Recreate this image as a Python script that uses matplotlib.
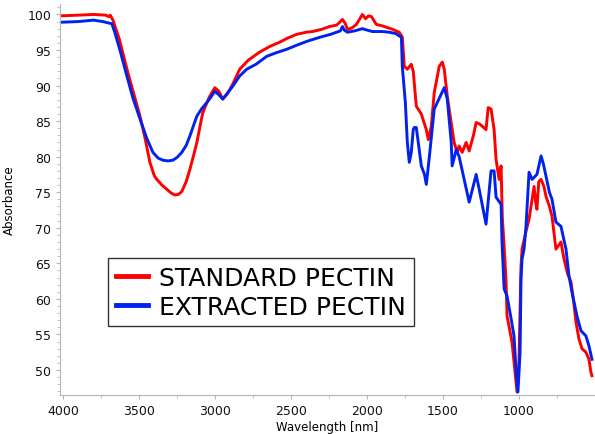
import matplotlib
matplotlib.use("Agg")
import matplotlib.pyplot as plt
from matplotlib.ticker import MultipleLocator

# standard pectin (red)
std_wn = [4020, 3900, 3800, 3720, 3700, 3690, 3672, 3630, 3580, 3540, 3494, 3460, 3429, 3400,
          3383, 3350, 3317, 3290, 3265, 3240, 3219, 3190, 3166, 3140, 3120, 3100, 3081, 3040,
          3002, 2975, 2950, 2920, 2884, 2838, 2780, 2707, 2640, 2575, 2520, 2464, 2400, 2359,
          2300, 2247, 2200, 2180, 2162, 2145, 2129, 2100, 2070, 2050, 2031, 2010, 1990, 1971,
          1939, 1900, 1873, 1830, 1801, 1788, 1768, 1755, 1735, 1709, 1696, 1676, 1643, 1610,
          1597, 1577, 1558, 1525, 1505, 1492, 1472, 1446, 1427, 1407, 1394, 1374, 1348, 1328,
          1300, 1282, 1260, 1243, 1217, 1203, 1184, 1164, 1151, 1131, 1118, 1110, 1098, 1085,
          1079, 1060, 1046, 1026, 1013, 1000, 987, 980, 954, 934, 901, 890, 882, 870, 855, 836,
          822, 800, 783, 757, 724, 704, 680, 658, 640, 625, 606, 586, 560, 540, 527, 520]
std_abs = [99.8, 99.9, 100.0, 99.9, 99.7, 99.9, 99.2, 96.5, 92.3, 89.2, 85.7, 82.5, 79.2, 77.3,
           76.8, 76.0, 75.4, 74.9, 74.6, 74.7, 75.1, 76.5, 78.2, 80.3, 82.0, 84.2, 86.2, 88.3,
           89.7, 89.2, 88.1, 88.8, 90.2, 92.3, 93.6, 94.7, 95.5, 96.1, 96.7, 97.2, 97.5, 97.6,
           97.9, 98.3, 98.5, 98.9, 99.3, 98.8, 97.9, 98.1, 98.6, 99.3, 100.0, 99.4, 99.8, 99.7,
           98.6, 98.4, 98.2, 97.9, 97.6, 97.5, 96.8, 92.7, 92.3, 93.0, 92.0, 87.1, 86.0, 83.8,
           82.4, 84.3, 89.0, 92.7, 93.3, 92.3, 88.5, 84.8, 82.0, 80.6, 81.5, 80.6, 82.0, 80.8,
           83.0, 84.8, 84.6, 84.3, 83.8, 86.9, 86.7, 83.8, 79.6, 76.8, 78.7, 71.5, 67.4, 62.4,
           57.6, 55.5, 53.9, 49.7, 46.9, 51.5, 64.6, 67.0, 69.5, 71.2, 75.8, 73.5, 72.6, 76.5,
           76.8, 75.8, 74.4, 73.0, 71.6, 67.0, 68.0, 65.6, 63.5, 62.4, 59.5, 56.7, 54.4, 53.0,
           52.5, 51.5, 49.7, 49.2]

# extracted pectin (blue)
ext_wn = [4020, 3900, 3800, 3740, 3700, 3680, 3660, 3620, 3580, 3540, 3494, 3450, 3409, 3375,
          3343, 3310, 3278, 3250, 3219, 3190, 3166, 3140, 3120, 3090, 3055, 3030, 3002, 2975,
          2950, 2920, 2884, 2840, 2792, 2730, 2661, 2600, 2529, 2460, 2398, 2340, 2293, 2240,
          2201, 2175, 2162, 2150, 2129, 2080, 2031, 2000, 1965, 1900, 1853, 1810, 1790, 1774,
          1768, 1748, 1735, 1722, 1709, 1696, 1689, 1676, 1663, 1643, 1622, 1610, 1590, 1558,
          1492, 1472, 1446, 1440, 1413, 1394, 1361, 1328, 1282, 1262, 1217, 1184, 1164, 1151,
          1118, 1112, 1098, 1079, 1052, 1033, 1020, 1007, 993, 987, 980, 967, 954, 934, 914,
          882, 855, 840, 822, 800, 783, 757, 724, 691, 671, 652, 619, 592, 560, 540, 520]
ext_abs = [98.9, 99.0, 99.2, 99.0, 98.8, 98.7, 97.5, 94.5, 91.3, 88.2, 85.3, 82.6, 80.6, 79.8,
           79.5, 79.4, 79.5, 79.9, 80.6, 81.6, 82.9, 84.5, 85.7, 86.7, 87.6, 88.3, 89.2, 88.7,
           88.1, 88.9, 89.9, 91.3, 92.3, 93.0, 94.1, 94.6, 95.1, 95.7, 96.2, 96.6, 96.9, 97.2,
           97.5, 97.7, 98.3, 97.8, 97.5, 97.7, 98.0, 97.8, 97.6, 97.6, 97.5, 97.3, 97.0, 96.8,
           92.7, 87.6, 82.0, 79.2, 80.6, 83.8, 84.1, 84.1, 82.0, 78.7, 77.5, 76.1, 80.0, 86.7,
           89.7, 88.1, 82.0, 78.7, 81.0, 80.0, 76.8, 73.6, 77.5, 75.4, 70.5, 78.0, 78.0, 74.3,
           73.3, 68.0, 61.4, 60.4, 57.2, 54.8, 50.1, 46.9, 52.5, 62.8, 65.6, 67.0, 70.2, 77.8, 76.8,
           77.5, 80.1, 79.0, 77.2, 75.0, 74.0, 70.8, 70.2, 67.0, 63.2, 61.0, 57.6, 55.5, 54.8,
           53.4, 51.5]

x_ticks = [4000, 3500, 3000, 2500, 2000, 1500, 1000]
y_ticks = [50, 55, 60, 65, 70, 75, 80, 85, 90, 95, 100]

fig = plt.figure(figsize=(5.95, 4.35), dpi=100)
ax = fig.add_axes([0.101, 0.09, 0.899, 0.899])

ax.plot(std_wn, std_abs, color="#ff0000", lw=2.1, label="STANDARD PECTIN")
ax.plot(ext_wn, ext_abs, color="#0022ee", lw=2.1, label="EXTRACTED PECTIN")

ax.set_xlim(4020, 500)
ax.set_ylim(46.5, 101.5)
ax.set_xticks(x_ticks)
ax.xaxis.set_minor_locator(MultipleLocator(250))
ax.set_yticks(y_ticks)
ax.yaxis.set_minor_locator(MultipleLocator(1))

for s in ["top", "right"]:
    ax.spines[s].set_visible(False)
for s in ["left", "bottom"]:
    ax.spines[s].set_color("#b5b5b5")
ax.tick_params(which="both", color="#b5b5b5", labelsize=9, labelcolor="#111111")
ax.tick_params(which="major", length=3)
ax.tick_params(which="minor", length=2)

ax.set_xlabel("Wavelength [nm]", fontsize=8.5, labelpad=2)
ax.set_ylabel("Absorbance", fontsize=8.5, labelpad=8)

leg = ax.legend(loc="lower left", bbox_to_anchor=(0.09, 0.176), borderaxespad=0,
                fontsize=18, handlelength=1.3, handletextpad=0.45, fancybox=False,
                edgecolor="#333333", framealpha=1, borderpad=0.3, labelspacing=0.2)
leg.get_frame().set_linewidth(1.0)
for line in leg.get_lines():
    line.set_linewidth(3.5)

fig.savefig("out.png", dpi=100)
